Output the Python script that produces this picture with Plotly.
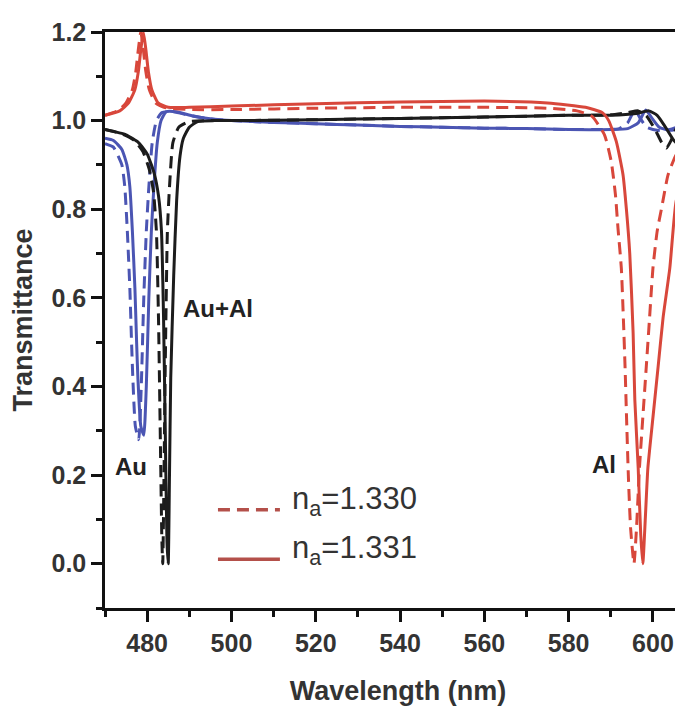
import plotly.graph_objects as go

# Transmittance spectra (wavelength in nm)
# n_a = 1.330 -> dashed, n_a = 1.331 -> solid

# Au (blue)
au_330_wl = [470, 472, 474, 474.7, 475.3, 475.9, 476.3, 476.6, 477.2, 478.0, 478.6, 479.2, 479.8, 480.4, 481.2, 482.2, 483.5, 486, 490, 495, 500, 510, 520, 530, 540, 550, 560, 570, 580, 588, 592, 594, 595.7, 597, 598.5, 601, 604, 607, 609.5]
au_330_t = [0.948, 0.94, 0.90, 0.85, 0.75, 0.62, 0.50, 0.42, 0.31, 0.28, 0.40, 0.60, 0.75, 0.85, 0.95, 1.0, 1.018, 1.02, 1.012, 1.004, 1.0, 0.996, 0.993, 0.99, 0.987, 0.985, 0.983, 0.982, 0.98, 0.98, 0.982, 0.995, 1.024, 1.005, 0.985, 0.978, 0.98, 0.99, 1.0]
au_331_wl = [470, 472, 474, 475.2, 475.9, 476.5, 477.1, 477.5, 477.8, 478.5, 479.2, 479.8, 480.4, 481.0, 481.6, 482.4, 483.3, 484.5, 487, 491, 496, 500, 510, 520, 530, 540, 550, 560, 570, 580, 590, 594, 596.5, 598.3, 599.8, 601.5, 604, 607, 609.5]
au_331_t = [0.96, 0.955, 0.935, 0.90, 0.85, 0.75, 0.62, 0.50, 0.42, 0.31, 0.29, 0.40, 0.60, 0.75, 0.85, 0.95, 1.0, 1.02, 1.02, 1.01, 1.003, 1.0, 0.996, 0.993, 0.99, 0.987, 0.985, 0.983, 0.982, 0.98, 0.98, 0.982, 0.995, 1.024, 1.005, 0.985, 0.978, 0.983, 0.995]

# Au+Al (black)
auai_330_wl = [470, 474, 477, 479, 480.5, 481.5, 482.2, 482.7, 483.1, 483.5, 483.7, 484.0, 484.3, 484.8, 485.3, 486.1, 487.5, 490, 495, 500, 520, 540, 560, 580, 590, 594, 596.5, 598.5, 600.5, 602, 603.2, 604.3, 605.2, 606.5, 609.5]
auai_330_t = [0.98, 0.97, 0.955, 0.93, 0.89, 0.84, 0.75, 0.55, 0.30, 0.05, 0.0, 0.2, 0.45, 0.75, 0.85, 0.95, 0.985, 0.998, 1.0, 1.0, 1.002, 1.005, 1.008, 1.012, 1.013, 1.018, 1.022, 1.01, 0.98, 0.952, 0.938, 0.955, 0.976, 0.998, 1.005]
auai_331_wl = [470, 475, 478, 480, 481.7, 482.7, 483.4, 483.9, 484.3, 484.7, 485.0, 485.3, 485.6, 486.3, 487.0, 487.8, 488.6, 490, 492, 496, 500, 520, 540, 560, 580, 590, 596, 599, 601, 603, 605, 606.7, 607.8, 609, 609.5]
auai_331_t = [0.98, 0.968, 0.95, 0.925, 0.88, 0.83, 0.75, 0.55, 0.30, 0.05, 0.0, 0.2, 0.42, 0.65, 0.82, 0.92, 0.96, 0.985, 0.998, 1.0, 1.0, 1.002, 1.005, 1.008, 1.012, 1.012, 1.016, 1.022, 1.012, 0.985, 0.955, 0.942, 0.96, 1.0, 1.006]

# Al (red)
al_330_wl = [470, 473, 475, 476.5, 477.3, 477.9, 478.5, 479.1, 479.7, 480.5, 482, 484, 490, 500, 520, 540, 560, 575, 582, 585.5, 588.5, 590.1, 591.1, 591.7, 592.5, 593.0, 593.4, 593.8, 594.2, 594.7, 595.5, 596.1, 596.8, 597.6, 598.4, 599.2, 600.0, 601.0, 602.0, 603.6, 605.5, 607.5, 609.5]
al_330_t = [1.012, 1.022, 1.04, 1.07, 1.11, 1.16, 1.2, 1.16, 1.11, 1.07, 1.04, 1.03, 1.025, 1.025, 1.028, 1.03, 1.03, 1.028, 1.022, 1.01, 0.968, 0.908, 0.833, 0.758, 0.667, 0.55, 0.44, 0.31, 0.19, 0.08, 0.0, 0.08, 0.216, 0.33, 0.442, 0.555, 0.667, 0.75, 0.80, 0.878, 0.923, 0.95, 0.965]
al_331_wl = [470, 473.5, 475.6, 477.1, 477.9, 478.5, 479.1, 479.7, 480.3, 481.1, 482.6, 485, 490, 500, 520, 540, 560, 575, 584, 588, 589.5, 591.3, 592.9, 593.7, 594.5, 595.3, 595.7, 596.5, 597.1, 597.6, 598.2, 598.8, 600.0, 601.2, 602.4, 604.0, 605.5, 607.5, 609.5]
al_331_t = [1.012, 1.022, 1.04, 1.07, 1.11, 1.16, 1.2, 1.16, 1.11, 1.07, 1.04, 1.03, 1.03, 1.033, 1.038, 1.042, 1.044, 1.04, 1.03, 1.018, 1.0, 0.953, 0.878, 0.80, 0.70, 0.52, 0.37, 0.216, 0.066, 0.0, 0.104, 0.216, 0.33, 0.442, 0.555, 0.667, 0.818, 0.878, 0.905]

legend_labels = ["n<sub>a</sub>=1.330", "n<sub>a</sub>=1.331"]

RED = "#d8473b"
BLUE = "#4b55b3"
BLACK = "#1c1c1c"
LEG = "#b4504a"
DASH = "12px,7px"

series = [
    (au_330_wl, au_330_t, BLUE, DASH),
    (au_331_wl, au_331_t, BLUE, "solid"),
    (auai_330_wl, auai_330_t, BLACK, DASH),
    (auai_331_wl, auai_331_t, BLACK, "solid"),
    (al_330_wl, al_330_t, RED, DASH),
    (al_331_wl, al_331_t, RED, "solid"),
]

fig = go.Figure()
for wl, t, color, dash in series:
    fig.add_trace(go.Scatter(
        x=wl, y=t, mode="lines",
        line=dict(color=color, width=3, dash=dash, shape="spline", smoothing=0.5),
        showlegend=False, hoverinfo="skip",
    ))

FONT = "Liberation Sans, Arial, sans-serif"

# hand-drawn legend (long line samples like the original)
for i, (lab, dash) in enumerate(zip(legend_labels, [DASH, "solid"])):
    ly = [0.122, 0.010][i]
    fig.add_shape(type="line", xref="x", yref="y", x0=496.8, x1=511.5, y0=ly, y1=ly,
                  line=dict(color=LEG, width=3.5, dash=dash))
    fig.add_annotation(x=513.8, y=ly + 0.02, xref="x", yref="y", text=lab, showarrow=False,
                       xanchor="left", yanchor="middle",
                       font=dict(family=FONT, size=31, color="#333"))

# curve labels
for txt, x, y in [("Au+Al", 488.0, 0.577), ("Au", 471.9, 0.219), ("Al", 585.0, 0.224)]:
    fig.add_annotation(x=x, y=y, xref="x", yref="y", text=txt, showarrow=False,
                       xanchor="left", yanchor="middle",
                       font=dict(family=FONT, size=24, color="#222", weight="bold"))

fig.update_layout(
    width=683, height=708,
    margin=dict(l=97, r=0, t=24, b=108),
    paper_bgcolor="white", plot_bgcolor="white",
    font=dict(family=FONT, color="#333"),
)
fig.update_xaxes(
    range=[470, 609.03], tickvals=[480, 500, 520, 540, 560, 580, 600],
    ticks="outside", ticklen=11, tickwidth=2.5, tickcolor="#111",
    minor=dict(dtick=10, tick0=470, ticks="outside", ticklen=6, tickwidth=2.5, tickcolor="#111"),
    showline=True, linewidth=2.5, linecolor="#111", mirror=True,
    showgrid=False, zeroline=False, automargin=False,
    tickfont=dict(size=25, weight="bold", color="#333"),
    title=dict(text="Wavelength (nm)", font=dict(size=27, weight="bold", color="#333"), standoff=26),
)
fig.update_yaxes(
    range=[-0.1, 1.2], tickvals=[0, 0.2, 0.4, 0.6, 0.8, 1.0, 1.2], tickformat=".1f",
    ticks="outside", ticklen=11, tickwidth=2.5, tickcolor="#111",
    minor=dict(dtick=0.1, tick0=-0.1, ticks="outside", ticklen=6, tickwidth=2.5, tickcolor="#111"),
    showline=True, linewidth=2.5, linecolor="#111",
    showgrid=False, zeroline=False, automargin=False,
    tickfont=dict(size=25, weight="bold", color="#333"),
    title=dict(text="Transmittance", font=dict(size=27, weight="bold", color="#333"), standoff=24),
)

fig.write_html("out.html")
